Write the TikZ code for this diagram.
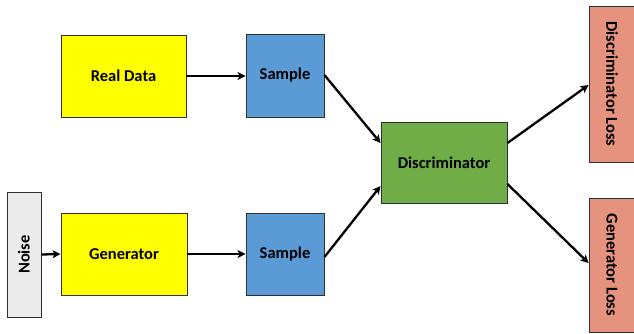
\documentclass[tikz,border=0pt]{standalone}
\usepackage{fontspec}
\setmainfont{Carlito}
\usetikzlibrary{arrows.meta}
\definecolor{cyel}{HTML}{FFFF00}
\definecolor{cblue}{HTML}{5B9BD5}
\definecolor{cgreen}{HTML}{70AD47}
\definecolor{csalmon}{HTML}{E5937F}
\definecolor{cgray}{HTML}{EBEBEB}
\definecolor{cedge}{HTML}{303030}
\begin{document}
\begin{tikzpicture}[x=1pt,y=-1pt,
  box/.style={draw=cedge,line width=0.9pt,inner sep=0pt,font=\fontsize{16.5}{19}\selectfont\bfseries},
  conn/.style={line width=2.3pt,-{Stealth[length=8pt,width=8pt,inset=2pt]}}]
\useasboundingbox[fill=white] (0,0) rectangle (634,333);
\node[box,fill=cyel,minimum width=125pt,minimum height=82pt] (real) at (123.5,76) {Real Data};
\node[box,fill=cblue,minimum width=78pt,minimum height=83pt] (s1) at (285,75.5) {Sample};
\node[box,fill=cyel,minimum width=126pt,minimum height=82pt] (gen) at (124,254) {Generator};
\node[box,fill=cblue,minimum width=78pt,minimum height=82pt] (s2) at (285,254) {Sample};
\node[box,fill=cgray,minimum width=34pt,minimum height=125pt] (noise) at (24,254.5) {};
\node[rotate=90,font=\fontsize{16.5}{19}\selectfont\bfseries] (noiset) at (noise.center) {Noise};
\node[box,fill=cgreen,minimum width=126pt,minimum height=81pt] (disc) at (444,162.5) {Discriminator};
\node[box,fill=csalmon,minimum width=46pt,minimum height=156pt] (dl) at (612,84) {};
\node[rotate=-90,font=\fontsize{16.5}{19}\selectfont\bfseries] (dlt) at (dl.center) {Discriminator Loss};
\node[box,fill=csalmon,minimum width=46pt,minimum height=134pt] (gl) at (612,265) {};
\node[rotate=-90,font=\fontsize{16.5}{19}\selectfont\bfseries] (glt) at (gl.center) {Generator Loss};
\draw[conn] (real.east |- 0,76) -- (s1.west |- 0,76);
\draw[conn] (noise.east) -- (gen.west);
\draw[conn] (gen.east) -- (s2.west);
\draw[conn] (s1.east |- 0,75) -- (disc.west |- 0,143);
\draw[conn] (s2.east |- 0,257) -- (disc.west |- 0,186);
\draw[conn] (disc.east |- 0,143) -- (dl.west |- 0,85);
\draw[conn] (disc.east |- 0,184) -- (gl.west |- 0,263);
\end{tikzpicture}
\end{document}
